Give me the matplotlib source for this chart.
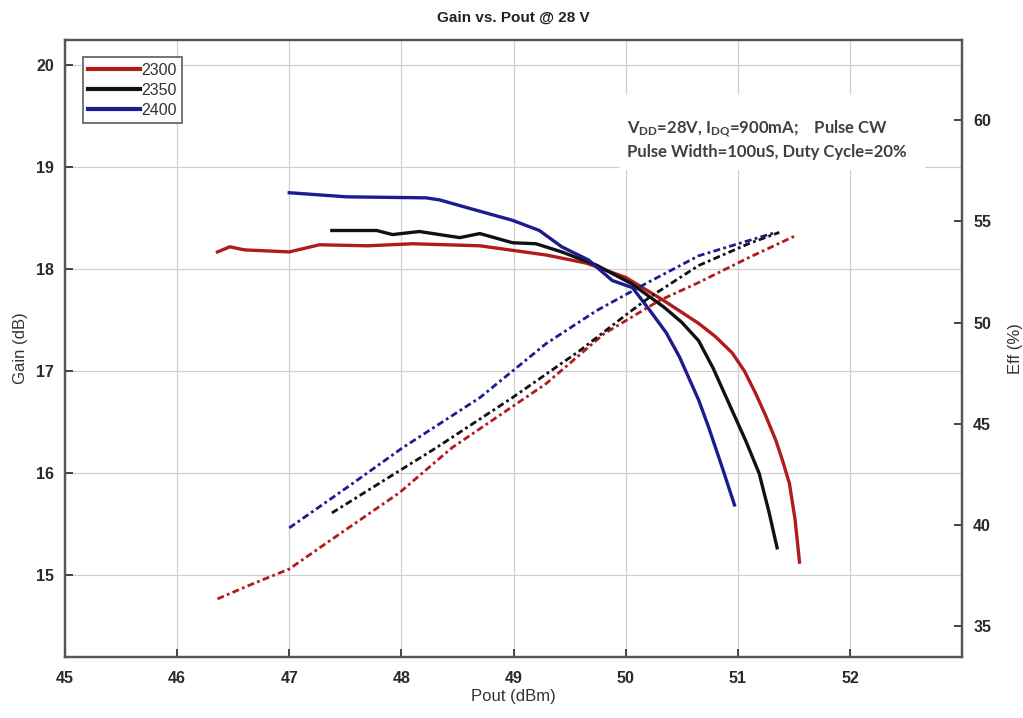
import matplotlib
matplotlib.use("Agg")
from matplotlib import pyplot as plt
from matplotlib.patches import Rectangle

plt.rcParams['font.family'] = ['Liberation Sans', 'DejaVu Sans']
plt.rcParams['mathtext.fontset'] = 'custom'
plt.rcParams['mathtext.rm'] = 'Lato:bold'
plt.rcParams['mathtext.it'] = 'Lato:bold'
plt.rcParams['mathtext.bf'] = 'Lato:bold'

# gain curves (solid), Pout in dBm, gain in dB
pout_2300 = [46.36, 46.47, 46.6, 47.0, 47.27, 47.7, 48.10, 48.70, 49.29, 49.65, 50.0,
             50.33, 50.65, 50.80, 50.95, 51.06, 51.16, 51.25, 51.34, 51.40, 51.46, 51.51,
             51.55]
gain_2300 = [18.17, 18.22, 18.19, 18.17, 18.24, 18.23, 18.25, 18.23, 18.14, 18.06, 17.92,
             17.70, 17.47, 17.34, 17.18, 17.00, 16.78, 16.56, 16.32, 16.12, 15.90, 15.55,
             15.13]

pout_2350 = [47.38, 47.78, 47.92, 48.16, 48.52, 48.70, 48.99, 49.20, 49.43, 49.74, 50.05,
             50.34, 50.50, 50.65, 50.78, 50.89, 51.07, 51.19, 51.28, 51.35]
gain_2350 = [18.38, 18.38, 18.34, 18.37, 18.31, 18.35, 18.26, 18.25, 18.17, 18.04, 17.86,
             17.63, 17.48, 17.30, 17.03, 16.76, 16.32, 16.00, 15.61, 15.27]

pout_2400 = [47.0, 47.51, 48.22, 48.34, 48.63, 48.99, 49.23, 49.43, 49.67, 49.88, 50.06,
             50.22, 50.36, 50.48, 50.65, 50.74, 50.86, 50.97]
gain_2400 = [18.75, 18.71, 18.70, 18.68, 18.59, 18.48, 18.38, 18.22, 18.09, 17.89, 17.82,
             17.59, 17.38, 17.14, 16.72, 16.45, 16.06, 15.69]

# efficiency curves (dash-dot), Eff in %
eff_pout_2300 = [46.36, 46.65, 47.0, 47.36, 47.98, 48.45, 49.29, 49.81, 50.30, 50.65, 51.10, 51.52]
eff_2300 = [36.34, 37.03, 37.82, 39.21, 41.58, 43.81, 46.98, 49.46, 51.09, 51.98, 53.22, 54.31]

eff_pout_2350 = [47.38, 47.81, 48.31, 48.99, 49.59, 50.03, 50.21, 50.65, 51.10, 51.37]
eff_2350 = [40.59, 42.08, 43.81, 46.29, 48.61, 50.50, 51.24, 52.82, 53.91, 54.46]

eff_pout_2400 = [47.0, 47.51, 48.01, 48.70, 49.29, 49.74, 50.18, 50.65, 51.04, 51.34]
eff_2400 = [39.85, 41.83, 43.81, 46.29, 48.96, 50.59, 51.93, 53.3, 53.96, 54.46]

labels = ['2300', '2350', '2400']
colors = ['#b01c1c', '#111111', '#1c1c8f']

x_ticks = [45, 46, 47, 48, 49, 50, 51, 52]
gain_ticks = [15, 16, 17, 18, 19, 20]
eff_ticks = [35, 40, 45, 50, 55, 60]

fig = plt.figure(figsize=(10.23, 7.18), dpi=100)
ax = fig.add_axes([0.0635, 0.085, 0.877, 0.859])
ax2 = ax.twinx()

ax.plot(pout_2300, gain_2300, color=colors[0], lw=2.4, label=labels[0])
ax.plot(pout_2350, gain_2350, color=colors[1], lw=2.4, label=labels[1])
ax.plot(pout_2400, gain_2400, color=colors[2], lw=2.4, label=labels[2])

dashdot = (0, (2.5, 1.2, 1, 1.2))
ax2.plot(eff_pout_2300, eff_2300, color=colors[0], lw=2.0, ls=dashdot)
ax2.plot(eff_pout_2350, eff_2350, color=colors[1], lw=2.0, ls=dashdot)
ax2.plot(eff_pout_2400, eff_2400, color=colors[2], lw=2.0, ls=dashdot)

ax.set_xlim(45, 53)
ax.set_ylim(14.2, 20.245)
ax2.set_ylim(33.47, 63.96)
ax.set_xticks(x_ticks)
ax.set_yticks(gain_ticks)
ax2.set_yticks(eff_ticks)

ax.grid(True, color='#d0d0d0', lw=0.9)
ax.set_axisbelow(True)

for a in (ax, ax2):
    for s in a.spines.values():
        s.set_color('#555555')
        s.set_linewidth(1.6)
    a.tick_params(direction='in', length=6, width=1.4, color='#444444',
                  labelsize=11.5, labelcolor='#2a2a2a')
ax.tick_params(axis='x', pad=10)
ax.tick_params(axis='y', pad=8)
ax2.tick_params(axis='y', pad=8)

for t in ax.get_xticklabels() + ax.get_yticklabels() + ax2.get_yticklabels():
    t.set_fontweight('bold')

ax.set_xlabel('Pout (dBm)', fontsize=12, color='#333333', labelpad=2)
ax.set_ylabel('Gain (dB)', fontsize=12, color='#333333', labelpad=6)
ax2.set_ylabel('Eff (%)', fontsize=12, color='#333333', labelpad=12)
ax.set_title('Gain vs. Pout @ 28 V', fontsize=11, fontweight='bold', color='#222222', pad=13)

leg = ax.legend(loc='upper left', bbox_to_anchor=(0.02, 0.972), fontsize=11.5,
                frameon=True, fancybox=False, handlelength=3.2, handletextpad=0.1,
                labelspacing=0.3, borderpad=0.35, borderaxespad=0)
leg.get_frame().set_edgecolor('#444444')
leg.get_frame().set_linewidth(1.3)
for line in leg.get_lines():
    line.set_linewidth(3.0)
for t in leg.get_texts():
    t.set_color('#333333')

ax2.add_patch(Rectangle((0.619, 0.789), 0.34, 0.122, transform=ax2.transAxes,
                        facecolor='white', edgecolor='none', zorder=5))
ax2.text(0.627, 0.850,
         r'V$_{\mathrm{DD}}$=28V, I$_{\mathrm{DQ}}$=900mA;    Pulse CW',
         transform=ax2.transAxes, fontsize=12, family='Lato', fontweight='bold',
         color='#404040', zorder=6, va='baseline')
ax2.text(0.627, 0.810, 'Pulse Width=100uS, Duty Cycle=20%',
         transform=ax2.transAxes, fontsize=12, family='Lato', fontweight='bold',
         color='#404040', zorder=6, va='baseline')

fig.savefig('out.png', dpi=100)
